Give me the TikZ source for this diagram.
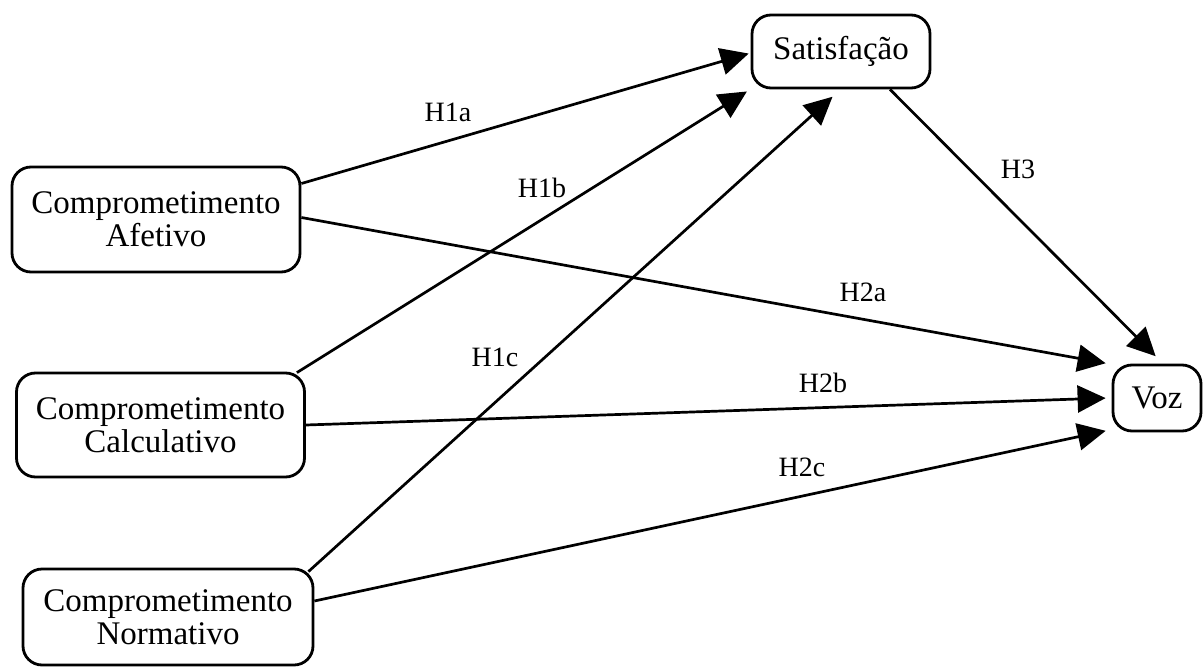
\documentclass[tikz,border=0pt]{standalone}
\usepackage{fontspec}
\setmainfont{Liberation Serif}
\usepackage{tikz}
\usetikzlibrary{calc,positioning,arrows.meta}
\tikzset{constructo/.style={draw, rounded corners=9.5pt, line width=1.4pt, align=center,
  inner sep=0pt, font=\fontsize{16.5}{16.5}\selectfont},
  hip/.style={-{Triangle[length=14pt,width=13.5pt]}, line width=1.35pt, shorten >=1pt},
  rotulo/.style={font=\fontsize{14}{14}\selectfont, inner sep=0pt}}

\begin{document}
\begin{tikzpicture}[x=0.5pt,y=-0.5pt]
\useasboundingbox (0,0) rectangle (1203,668);
\node[constructo, minimum width=89pt, minimum height=36.5pt] (sat) at (841,51.5) {Satisfa\c{c}\~ao};
\node[constructo, minimum width=144pt, minimum height=52.5pt] (afet) at (156,219.5) {Comprometimento\\Afetivo};
\node[constructo, minimum width=144pt, minimum height=52pt] (calc) at (160.5,425) {Comprometimento\\Calculativo};
\node[constructo, minimum width=145pt, minimum height=48pt] (norm) at (168,617) {Comprometimento\\Normativo};
\node[constructo, minimum width=44pt, minimum height=33pt] (voz) at (1157,398) {Voz};

% hipoteses
\draw[hip] ($(afet.east)+(0,-36)$) -- ($(sat.west)+(0,1.5)$);
\draw[hip] ($(calc.north east)+(-9,1)$) -- ($(sat.south west)+(-2,1)$);
\draw[hip] ($(norm.north east)+(-6,4)$) -- ($(sat.south)+(-7,6)$);
\draw[hip] ($(sat.south)+(49,0)$) -- ($(voz.north)+(0,-6)$);
\draw[hip] ($(afet.east)+(0,-2)$) -- ($(voz.north west)+(-4,0)$);
\draw[hip] (calc.east) -- ($(voz.west)+(-4,0)$);
\draw[hip] ($(norm.east)+(0,-16)$) -- ($(voz.south west)+(-4,-2)$);

\node[rotulo] (h1a) at (448,112) {H1a};
\node[rotulo] (h1b) at (542,188) {H1b};
\node[rotulo] (h1c) at (495,357) {H1c};
\node[rotulo] (h2a) at (863,292) {H2a};
\node[rotulo] (h2b) at (823,383) {H2b};
\node[rotulo] (h2c) at (802,467) {H2c};
\node[rotulo] (h3) at (1018,169) {H3};
\end{tikzpicture}
\end{document}
